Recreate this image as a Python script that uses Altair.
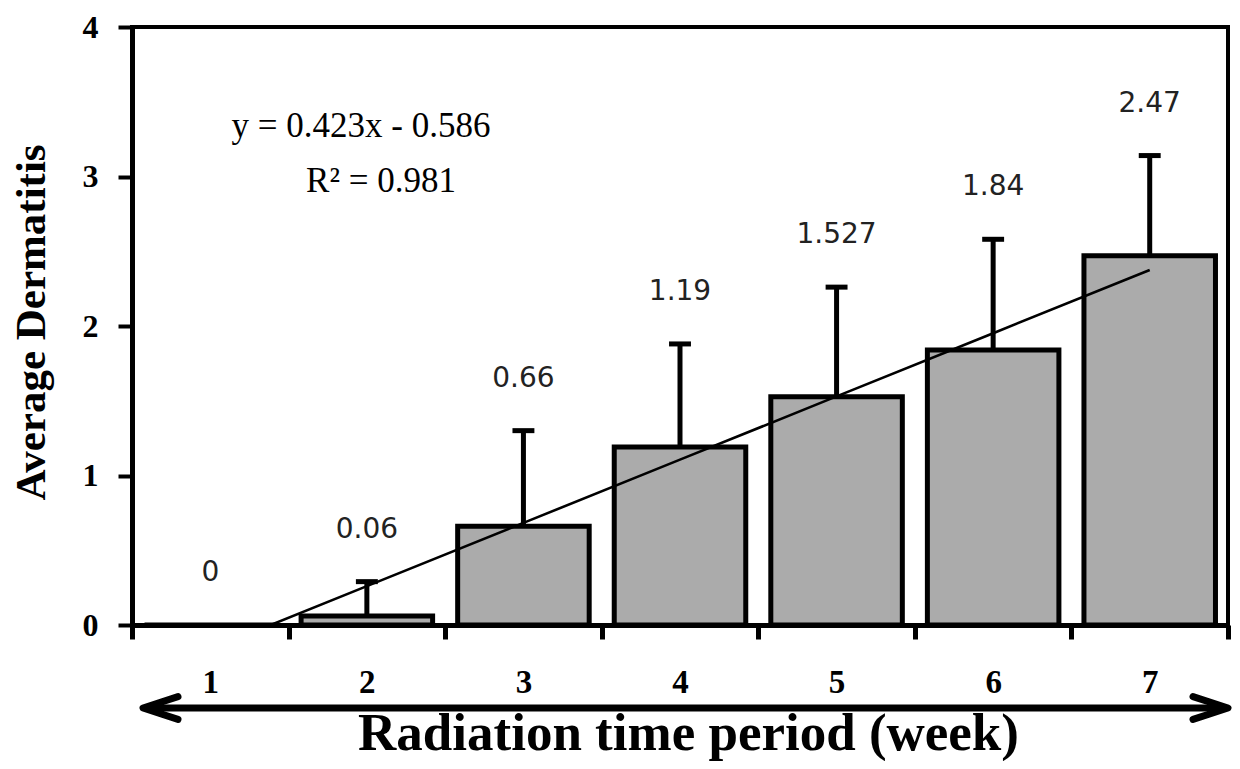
import altair as alt
import pandas as pd

# ---- data ----
weeks = [1, 2, 3, 4, 5, 6, 7]
values = [0, 0.06, 0.66, 1.19, 1.527, 1.84, 2.47]
err_tops = [0, 0.29, 1.30, 1.88, 2.26, 2.58, 3.14]
labels = [str(v) for v in values]
slope = 0.423
intercept = -0.586
r2 = 0.981
y_ticks = [0, 1, 2, 3, 4]

eq_text = f"y = {slope}x - {abs(intercept)}"
r2_text = f"R\u00b2 = {r2}"

df = pd.DataFrame({"week": weeks, "value": values, "err": err_tops, "label": labels})
one = pd.DataFrame({"k": [0]})

SERIF = "Liberation Serif"
W, H = 1096, 598
half_step = W / len(weeks) / 2

xscale = alt.Scale(domain=[weeks[0] - 0.5, weeks[-1] + 0.5], nice=False, zero=False)
yscale = alt.Scale(domain=[y_ticks[0], y_ticks[-1]], nice=False, zero=True)

boundaries = [w - 0.5 for w in weeks] + [weeks[-1] + 0.5]

xaxis = alt.Axis(
    values=boundaries,
    labelExpr=f"datum.value < {weeks[-1]} ? format(datum.value + 0.5, 'd') : ''",
    labelOffset=half_step,
    labelFlush=False,
    labelOverlap=False,
    labelFont=SERIF, labelFontWeight="bold", labelFontSize=33, labelColor="black",
    labelPadding=27,
    tickSize=14, tickWidth=5, tickColor="black",
    domainWidth=5, domainColor="black",
    grid=False,
    title="Radiation time period (week)",
    titleFont=SERIF, titleFontWeight="bold", titleFontSize=53, titleColor="black",
    titleX=556, titleY=124, titleAlign="center", titleBaseline="alphabetic",
)

yaxis = alt.Axis(
    values=y_ticks,
    format="d",
    labelFont=SERIF, labelFontWeight="bold", labelFontSize=32, labelColor="black",
    labelPadding=20,
    tickSize=14, tickWidth=4, tickColor="black",
    domainWidth=5, domainColor="black",
    grid=False,
    title="Average Dermatitis",
    titleFont=SERIF, titleFontWeight="bold", titleFontSize=43, titleColor="black",
    titleAngle=270, titleX=-88, titleY=295, titleAlign="center", titleBaseline="alphabetic",
)

base = alt.Chart(df)

bars = base.transform_calculate(
    lo="datum.week - 0.42", hi="datum.week + 0.42"
).mark_bar(fill="#ababab", stroke="black", strokeWidth=5).encode(
    x=alt.X("lo:Q", scale=xscale, axis=xaxis),
    x2="hi:Q",
    y=alt.Y("value:Q", scale=yscale, axis=yaxis),
    y2=alt.datum(0),
)

err_line = base.transform_filter("datum.err > datum.value").mark_rule(
    color="black", strokeWidth=5
).encode(
    x=alt.X("week:Q", scale=xscale),
    y=alt.Y("value:Q", scale=yscale),
    y2="err:Q",
)

err_cap = base.transform_filter("datum.err > datum.value").transform_calculate(
    clo="datum.week - 0.07", chi="datum.week + 0.07"
).mark_rule(color="black", strokeWidth=5).encode(
    x=alt.X("clo:Q", scale=xscale),
    x2="chi:Q",
    y=alt.Y("err:Q", scale=yscale),
)

value_text = base.mark_text(
    font="DejaVu Sans", fontSize=28, color="#222222", baseline="middle", align="center", dy=-52
).encode(
    x=alt.X("week:Q", scale=xscale),
    y=alt.Y("err:Q", scale=yscale),
    text="label:N",
)

trend = base.transform_calculate(
    fit=f"{slope} * datum.week + ({intercept})"
).mark_line(color="black", strokeWidth=2.6, clip=True).encode(
    x=alt.X("week:Q", scale=xscale),
    y=alt.Y("fit:Q", scale=yscale),
)

eq1 = alt.Chart(one).mark_text(
    font=SERIF, fontSize=35, color="black", align="center", baseline="alphabetic"
).encode(x=alt.value(229), y=alt.value(110), text=alt.value(eq_text))

eq2 = alt.Chart(one).mark_text(
    font=SERIF, fontSize=35, color="black", align="center", baseline="alphabetic"
).encode(x=alt.value(249), y=alt.value(165), text=alt.value(r2_text))

shaft = alt.Chart(one).mark_rule(color="black", strokeWidth=7).encode(
    x=alt.value(14), x2=alt.value(1094), y=alt.value(681)
)

left_head = alt.Chart(one).mark_point(
    shape="M 1 -0.65 L -1 0 L 1 0.65", size=1225, filled=False,
    stroke="black", strokeWidth=7, strokeJoin="round", strokeCap="round", opacity=1
).encode(x=alt.value(28.5), y=alt.value(681))

right_head = alt.Chart(one).mark_point(
    shape="M -1 -0.65 L 1 0 L -1 0.65", size=1225, filled=False,
    stroke="black", strokeWidth=7, strokeJoin="round", strokeCap="round", opacity=1
).encode(x=alt.value(1078.5), y=alt.value(681))

chart = alt.layer(
    err_line, err_cap, bars, trend, value_text, eq1, eq2, shaft, left_head, right_head
).properties(
    width=W, height=H,
    padding={"left": 124, "top": 19, "right": 4, "bottom": 136},
    autosize=alt.AutoSizeParams(type="none"),
    background="white",
).configure_view(
    stroke="black", strokeWidth=4
)

chart.save("out.html", embed_options={"renderer": "svg", "actions": False})
